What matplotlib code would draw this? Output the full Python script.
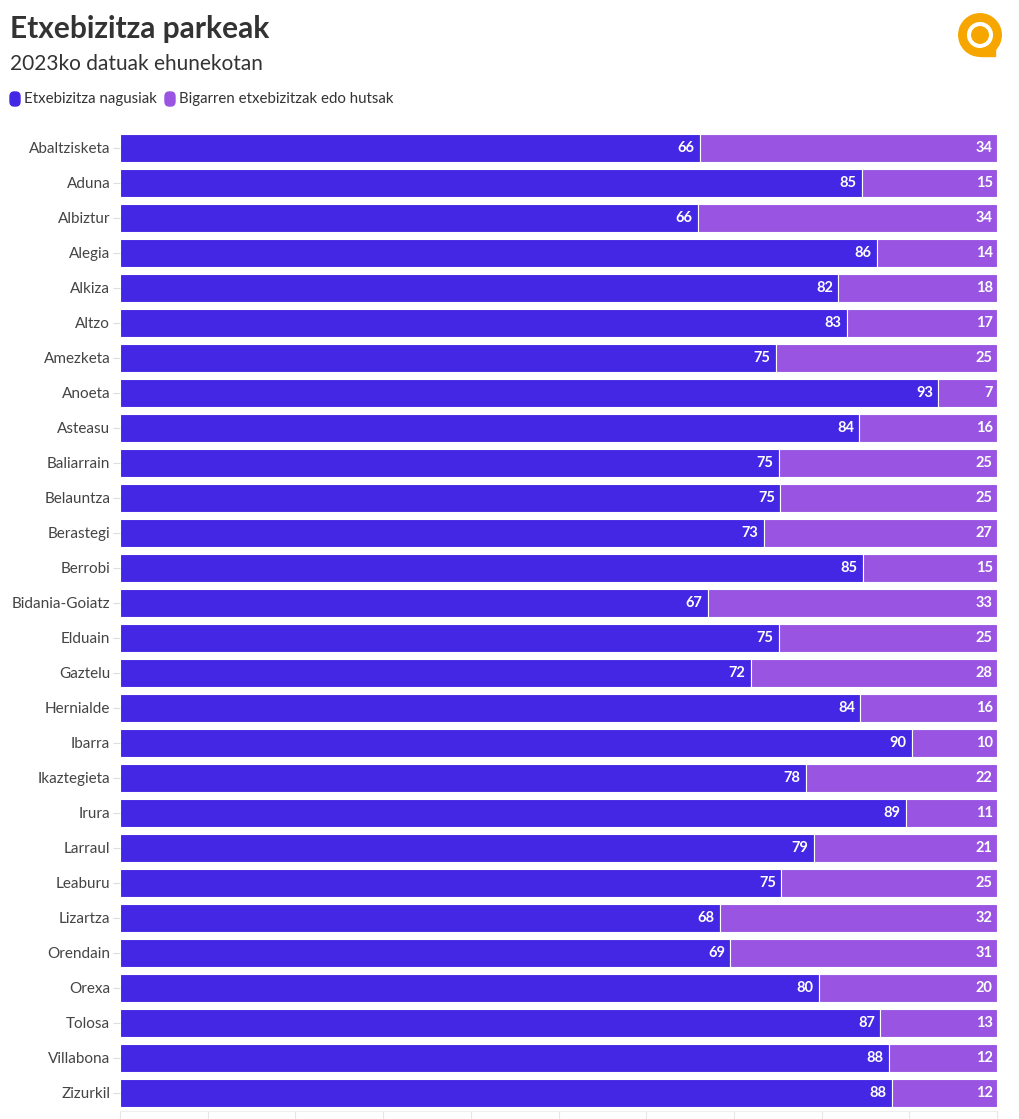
import matplotlib.pyplot as plt
import numpy as np
from matplotlib.patches import FancyBboxPatch, Circle, Wedge, Rectangle

# Datuak
herriak = ['Abaltzisketa', 'Aduna', 'Albiztur', 'Alegia', 'Alkiza', 'Altzo', 'Amezketa',
           'Anoeta', 'Asteasu', 'Baliarrain', 'Belauntza', 'Berastegi', 'Berrobi',
           'Bidania-Goiatz', 'Elduain', 'Gaztelu', 'Hernialde', 'Ibarra', 'Ikaztegieta',
           'Irura', 'Larraul', 'Leaburu', 'Lizartza', 'Orendain', 'Orexa', 'Tolosa',
           'Villabona', 'Zizurkil']
nagusiak = [66.1, 84.6, 65.9, 86.3, 81.9, 82.9, 74.8, 93.3, 84.3, 75.1, 75.3, 73.4, 84.7,
            67.0, 75.1, 71.9, 84.4, 90.3, 78.2, 89.6, 79.1, 75.4, 68.4, 69.6, 79.7, 86.7,
            87.7, 88.0]
bigarrenak = [33.9, 15.4, 34.1, 13.7, 18.1, 17.1, 25.2, 6.7, 15.7, 24.9, 24.7, 26.6, 15.3,
              33.0, 24.9, 28.1, 15.6, 9.7, 21.8, 10.4, 20.9, 24.6, 31.6, 30.4, 20.3, 13.3,
              12.3, 12.0]
etiketa_1 = [66, 85, 66, 86, 82, 83, 75, 93, 84, 75, 75, 73, 85, 67, 75, 72, 84, 90, 78,
             89, 79, 75, 68, 69, 80, 87, 88, 88]
etiketa_2 = [34, 15, 34, 14, 18, 17, 25, 7, 16, 25, 25, 27, 15, 33, 25, 28, 16, 10, 22,
             11, 21, 25, 32, 31, 20, 13, 12, 12]
seriak = ['Etxebizitza nagusiak', 'Bigarren etxebizitzak edo hutsak']

kolore_1 = '#4327e4'
kolore_2 = '#9955e2'
laranja = '#f7a600'
plt.rcParams['font.family'] = ['Lato', 'DejaVu Sans']

fig = plt.figure(figsize=(10.2, 11.19), dpi=100)
ax = fig.add_axes([120/1020, 1-1110.5/1119, 877/1020, (1110.5-130)/1119])

y = np.arange(len(herriak))
ax.barh(y, nagusiak, height=0.8, color=kolore_1, edgecolor='white', linewidth=0.8)
ax.barh(y, bigarrenak, left=nagusiak, height=0.8, color=kolore_2, edgecolor='white', linewidth=0.8)

for i in range(len(herriak)):
    ax.text(nagusiak[i] - 0.6, i, str(etiketa_1[i]), ha='right', va='center',
            color='white', fontsize=10.5, fontweight='bold')
    ax.text(nagusiak[i] + bigarrenak[i] - 0.5, i, str(etiketa_2[i]), ha='right', va='center',
            color='white', fontsize=10.5, fontweight='bold')

ax.set_xlim(0, 100)
ax.set_ylim(len(herriak) - 0.5, -0.5)
ax.set_yticks(y)
ax.set_yticklabels(herriak, fontsize=11, color='#444444')
ax.set_xticks(np.arange(0, 101, 10))
ax.set_xticklabels([])
ax.tick_params(axis='x', length=9, color='#e6e6e6', width=0.8)
ax.tick_params(axis='y', length=5, color='#dddddd', width=0.8, pad=2)
for s in ['top', 'right', 'left']:
    ax.spines[s].set_visible(False)
ax.spines['bottom'].set_color('#eeeeee')

# Izenburuak
fig.text(10/1020, 1-29/1119, 'Etxebizitza parkeak', fontsize=21.5, fontweight='bold',
         color='#333333', va='center', ha='left')
fig.text(10/1020, 1-64/1119, '2023ko datuak ehunekotan', fontsize=15,
         color='#333333', va='center', ha='left')

# Legenda
for x0, kol, izena in [(10, kolore_1, seriak[0]), (165, kolore_2, seriak[1])]:
    fig.patches.append(FancyBboxPatch((x0/1020, 1-106/1119), 10/1020, 14/1119,
                                      boxstyle='round,pad=0,rounding_size=0.004',
                                      transform=fig.transFigure, color=kol))
    fig.text((x0+14)/1020, 1-99/1119, izena, fontsize=10.8, color='#333333',
             va='center', ha='left')

# Logoa
lax = fig.add_axes([955/1020, 1-60/1119, 50/1020, 50/1119])
lax.set_aspect('equal')
lax.set_xlim(-1, 1)
lax.set_ylim(-1, 1)
lax.axis('off')
lax.add_patch(Wedge((0, 0), 0.85, -60, 300, width=0.3, color=laranja))
lax.add_patch(Wedge((0, 0), 0.85, -90, -60, width=0.3, color=laranja))
lax.add_patch(Rectangle((0.0, -0.85), 0.62, 0.3, color=laranja))
lax.add_patch(Circle((0, 0), 0.33, color=laranja))

fig.savefig('out.png', dpi=100, facecolor='white')
